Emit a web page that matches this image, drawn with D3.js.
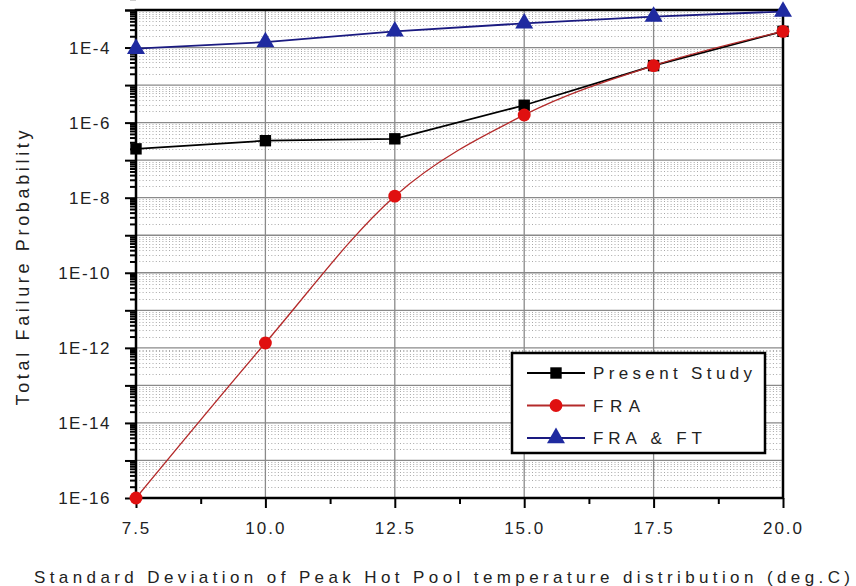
<!DOCTYPE html>
<html>
<head>
<meta charset="utf-8">
<script src="https://cdn.jsdelivr.net/npm/d3@7"></script>
<style>
  html, body { margin: 0; padding: 0; background: #fff; }
  svg { display: block; font-family: "Liberation Sans", Arial, sans-serif; }
</style>
</head>
<body>
<svg id="chart" width="856" height="586"></svg>
<script>
// ---- data ----
const xValues = [7.5, 10.0, 12.5, 15.0, 17.5, 20.0];
const presentStudy = [2.0e-7, 3.3e-7, 3.7e-7, 2.9e-6, 3.3e-5, 2.7e-4];
const fra = [1.0e-16, 1.35e-12, 1.1e-8, 1.6e-6, 3.3e-5, 2.7e-4];
const fraFt = [9.3e-5, 1.4e-4, 2.7e-4, 4.4e-4, 6.7e-4, 9.1e-4];
const seriesNames = ["Present Study", "FRA", "FRA & FT"];
const xTickLabels = ["7.5", "10.0", "12.5", "15.0", "17.5", "20.0"];
const yTickLabels = ["1E-4", "1E-6", "1E-8", "1E-10", "1E-12", "1E-14", "1E-16"];
const xTitle = "Standard Deviation of Peak Hot Pool temperature distribution (deg.C)";
const yTitle = "Total Failure Probability";

// ---- layout ----
const svg = d3.select("#chart");
const L = 136, R = 783, T = 10, B = 498;
const x = d3.scaleLinear().domain([7.5, 20]).range([L, R]);
const y = d3.scaleLog().domain([1e-16, 1e-3]).range([B, T]);

const decades = d3.range(-16, -2).map(e => Math.pow(10, e));
const minorY = [];
decades.forEach(d => { for (let k = 2; k <= 9; k++) minorY.push(d * k); });

// minor grid (dotted)
svg.append("g").selectAll("line").data(minorY).join("line")
  .attr("x1", L).attr("x2", R)
  .attr("y1", d => Math.round(y(d)) + 0.5).attr("y2", d => Math.round(y(d)) + 0.5)
  .attr("stroke", "#a8a8a8").attr("stroke-width", 1).attr("stroke-dasharray", "1,2.3");

// major grid
const gridDec = decades.filter(d => d > 1e-16 && d < 1e-3);
svg.append("g").selectAll("line").data(gridDec).join("line")
  .attr("x1", L).attr("x2", R)
  .attr("y1", d => y(d)).attr("y2", d => y(d))
  .attr("stroke", "#8a8a8a").attr("stroke-width", 1.3);
const xMajor = xValues.map(Number);
svg.append("g").selectAll("line").data(xMajor.filter(v => v > 7.5 && v < 20)).join("line")
  .attr("x1", d => x(d)).attr("x2", d => x(d))
  .attr("y1", T).attr("y2", B)
  .attr("stroke", "#8a8a8a").attr("stroke-width", 1.3);

// axes
const xAxis = d3.axisBottom(x).tickValues(xMajor).tickSize(10).tickPadding(14)
  .tickFormat((d, i) => xTickLabels[i]);
const gx = svg.append("g").attr("transform", `translate(0,${B})`).call(xAxis);
const xMinor = d3.axisBottom(x).tickValues(xMajor.slice(0, -1).map(v => v + 1.25)).tickSize(6).tickFormat("");
const gxm = svg.append("g").attr("transform", `translate(0,${B})`).call(xMinor);

const yLabelVals = [1e-4, 1e-6, 1e-8, 1e-10, 1e-12, 1e-14, 1e-16];
const yAxis = d3.axisLeft(y).tickValues(decades.concat([1e-3])).tickSize(11).tickPadding(14)
  .tickFormat(d => {
    const i = yLabelVals.findIndex(v => Math.abs(Math.log10(v) - Math.log10(d)) < 1e-6);
    return i >= 0 ? yTickLabels[i] : "";
  });
const gy = svg.append("g").attr("transform", `translate(${L},0)`).call(yAxis);
const yMinor = d3.axisLeft(y).tickValues(minorY).tickSize(6).tickFormat("");
const gym = svg.append("g").attr("transform", `translate(${L},0)`).call(yMinor);

[gx, gxm, gy, gym].forEach(g => {
  g.attr("font-size", null).attr("font-family", null);
  g.select(".domain").remove();
  g.selectAll(".tick line").attr("stroke", "#000").attr("stroke-width", 2);
});
gx.selectAll("text").style("font-size", "17px").attr("fill", "#222").attr("letter-spacing", "2px")
  .style("font-family", "Liberation Sans, Arial, sans-serif");
gy.selectAll("text").style("font-size", "17px").attr("fill", "#222").attr("letter-spacing", "1.5px")
  .attr("dy", "0.35em")
  .style("font-family", "Liberation Sans, Arial, sans-serif");

// frame
svg.append("rect").attr("x", L).attr("y", T).attr("width", R - L).attr("height", B - T)
  .attr("fill", "none").attr("stroke", "#000").attr("stroke-width", 2.5);

// series
const series = [
  { name: seriesNames[0], values: presentStudy, line: "#000", fill: "#000", shape: d3.symbolSquare, size: 130, curve: d3.curveLinear, tl: 159 },
  { name: seriesNames[1], values: fra, line: "#b42a2a", fill: "#e01010", shape: d3.symbolCircle, size: 130, curve: d3.curveMonotoneX, tl: 47 },
  { name: seriesNames[2], values: fraFt, line: "#1a1a80", fill: "#1f2aa0", shape: d3.symbolTriangle, size: 140, curve: d3.curveLinear, tl: 109 }
];
series.forEach(s => {
  const pts = xValues.map((v, i) => [v, s.values[i]]);
  const lineGen = d3.line().x(d => x(d[0])).y(d => y(d[1])).curve(s.curve);
  svg.append("path").datum(pts).attr("d", lineGen)
    .attr("fill", "none").attr("stroke", s.line).attr("stroke-width", s.name === "FRA" ? 1.3 : 1.8);
});
series.forEach(s => {
  const pts = xValues.map((v, i) => [v, s.values[i]]);
  svg.append("g").selectAll("path").data(pts).join("path")
    .attr("transform", d => `translate(${x(d[0])},${y(d[1])})`)
    .attr("d", d3.symbol().type(s.shape).size(s.size))
    .attr("fill", s.fill);
});

// legend
const lg = svg.append("g");
lg.append("rect").attr("x", 512).attr("y", 353).attr("width", 253).attr("height", 100)
  .attr("fill", "#fff").attr("stroke", "#000").attr("stroke-width", 2.5);
series.forEach((s, i) => {
  const cy = 373 + i * 32.5;
  lg.append("line").attr("x1", 527).attr("x2", 585).attr("y1", cy).attr("y2", cy)
    .attr("stroke", s.line).attr("stroke-width", 1.8);
  lg.append("path").attr("transform", `translate(556,${cy})`)
    .attr("d", d3.symbol().type(s.shape).size(s.size)).attr("fill", s.fill);
  lg.append("text").attr("x", 593).attr("y", cy + 6).text(s.name)
    .attr("font-size", 17).attr("fill", "#222")
    .attr("textLength", s.tl).attr("lengthAdjust", "spacing");
});

// titles
svg.append("text").attr("x", 34).attr("y", 583).text(xTitle)
  .attr("font-size", 17).attr("fill", "#222")
  .attr("textLength", 816).attr("lengthAdjust", "spacing");
svg.append("text").attr("transform", "translate(29,268) rotate(-90)")
  .attr("text-anchor", "middle").text(yTitle)
  .attr("font-size", 18).attr("fill", "#222")
  .attr("textLength", 275).attr("lengthAdjust", "spacing");
</script>
</body>
</html>
